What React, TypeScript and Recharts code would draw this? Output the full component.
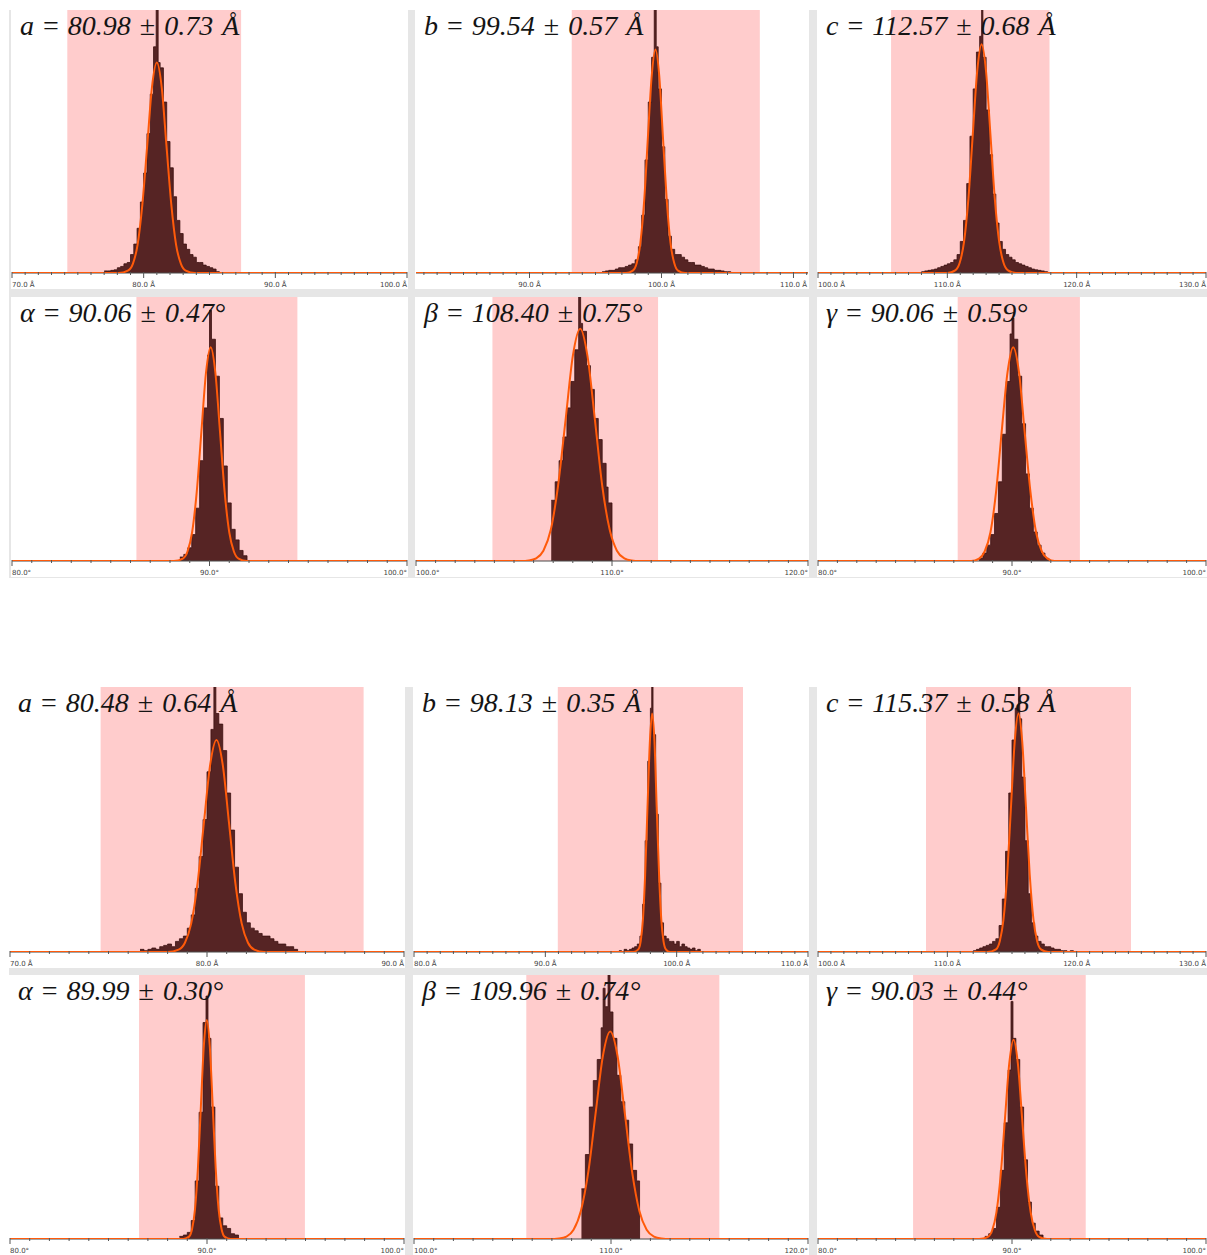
import React from 'react';
import { ComposedChart, Area, Line, XAxis, YAxis, ReferenceArea } from 'recharts';

type Pt = [number, number];

// titles
const symbols = ['a', 'b', 'c', 'α', 'β', 'γ'];
const units = [' Å', ' Å', ' Å', '°', '°', '°'];
const topMeans = ['80.98', '99.54', '112.57', '90.06', '108.40', '90.06'];
const topErrs = ['0.73', '0.57', '0.68', '0.47', '0.75', '0.59'];
const bottomMeans = ['80.48', '98.13', '115.37', '89.99', '109.96', '90.03'];
const bottomErrs = ['0.64', '0.35', '0.58', '0.30', '0.74', '0.44'];

// axis ranges and shaded windows
const topDomains: Pt[] = [[70, 100], [81.4, 111.1], [100, 130], [80, 100], [100, 120], [80, 100]];
const topBands: Pt[] = [[74.2, 87.4], [93.2, 107.45], [105.65, 117.9], [86.3, 94.45], [103.9, 112.35], [87.2, 93.5]];
const bottomDomains: Pt[] = [[70, 90], [80, 110], [100, 130], [80, 100], [100, 120], [80, 100]];
const bottomBands: Pt[] = [[74.6, 87.95], [90.95, 105.05], [108.35, 124.2], [86.55, 94.97], [105.7, 115.5], [84.9, 93.8]];

// histograms: [bin left edge, height in % of panel]
const histTopA: Pt[] = [[77.0, 0.8], [77.25, 0.8], [77.5, 1], [77.75, 1.2], [78.0, 2], [78.25, 2.5], [78.5, 3.5], [78.75, 4], [79.0, 7], [79.25, 11], [79.5, 17], [79.75, 27], [80.0, 38], [80.25, 53], [80.5, 68], [80.75, 86], [80.95, 104], [81.1, 80], [81.25, 78], [81.5, 65], [81.75, 50], [82.0, 40], [82.25, 29], [82.5, 20], [82.75, 15], [83.0, 11], [83.25, 9], [83.5, 7], [83.75, 6], [84.0, 4], [84.25, 4], [84.5, 3], [84.75, 2.5], [85.0, 2], [85.25, 1.5], [85.5, 0.5], [85.75, 0]];
const histTopB: Pt[] = [[95.5, 0.5], [95.75, 0.8], [96.0, 1], [96.25, 1], [96.5, 1.5], [96.75, 2], [97.0, 2], [97.25, 2.5], [97.5, 3], [97.75, 3.5], [98.0, 5], [98.25, 10], [98.5, 22], [98.75, 43], [99.0, 65], [99.25, 82], [99.45, 104], [99.6, 86], [99.75, 70], [100.0, 48], [100.25, 28], [100.5, 14], [100.75, 9], [101.0, 7], [101.25, 7], [101.5, 6], [101.75, 5], [102.0, 4], [102.25, 4], [102.5, 3], [102.75, 3], [103.0, 2.5], [103.25, 2], [103.5, 1.5], [103.75, 1.5], [104.0, 1], [104.25, 1], [104.5, 0.8], [104.75, 0.5], [105.0, 0.5], [105.25, 0]];
const histTopC: Pt[] = [[108.0, 0.5], [108.25, 0.8], [108.5, 1], [108.75, 1.2], [109.0, 1.5], [109.25, 2], [109.5, 2.5], [109.75, 3], [110.0, 3.5], [110.25, 4], [110.5, 5], [110.75, 7], [111.0, 12], [111.25, 20], [111.5, 34], [111.75, 52], [112.0, 70], [112.25, 84], [112.5, 90], [112.65, 104], [112.75, 82], [113.0, 62], [113.25, 45], [113.5, 30], [113.75, 19], [114.0, 12], [114.25, 9], [114.5, 7], [114.75, 6], [115.0, 5], [115.25, 4], [115.5, 3.5], [115.75, 3], [116.0, 2.5], [116.25, 2], [116.5, 1.5], [116.75, 1.2], [117.0, 1], [117.25, 0.8], [117.5, 0.5], [117.75, 0]];
const histTopAlpha: Pt[] = [[88.5, 1.5], [88.7, 2.5], [88.9, 5], [89.1, 10], [89.3, 20], [89.5, 38], [89.7, 58], [89.9, 78], [90.0, 95], [90.1, 84], [90.3, 70], [90.5, 54], [90.7, 36], [90.9, 22], [91.1, 12], [91.3, 8], [91.5, 4], [91.7, 2], [91.9, 0]];
const histTopBeta: Pt[] = [[106.9, 23], [107.1, 30], [107.3, 38], [107.5, 47], [107.7, 58], [107.9, 68], [108.1, 80], [108.3, 102], [108.4, 90], [108.5, 87], [108.7, 74], [108.9, 65], [109.1, 54], [109.3, 46], [109.5, 37], [109.7, 28], [109.8, 22], [110.0, 0]];
const histTopGamma: Pt[] = [[88.3, 1], [88.5, 3], [88.7, 6], [88.9, 10], [89.1, 18], [89.3, 30], [89.5, 48], [89.7, 68], [89.9, 86], [90.0, 92], [90.1, 84], [90.3, 70], [90.5, 52], [90.7, 33], [90.9, 20], [91.1, 11], [91.3, 6], [91.5, 3], [91.7, 1], [91.9, 0]];

const histBotA: Pt[] = [[76.6, 1], [76.8, 0.5], [77.0, 1], [77.2, 1.5], [77.4, 1], [77.6, 2], [77.8, 2.5], [78.0, 3], [78.2, 2], [78.4, 4], [78.6, 5], [78.8, 6], [79.0, 9], [79.2, 14], [79.4, 24], [79.6, 36], [79.8, 50], [80.0, 68], [80.2, 84], [80.35, 104], [80.45, 90], [80.6, 86], [80.8, 76], [81.0, 60], [81.2, 46], [81.4, 32], [81.6, 22], [81.8, 15], [82.0, 11], [82.2, 9], [82.4, 8], [82.6, 7], [82.8, 6], [83.0, 6], [83.2, 5], [83.4, 4], [83.6, 3], [83.8, 3], [84.0, 2], [84.2, 2], [84.4, 1], [84.6, 0]];
const histBotB: Pt[] = [[95.6, 0.5], [95.8, 0], [96.0, 1], [96.2, 0.5], [96.4, 1], [96.6, 1.5], [96.8, 2], [97.0, 3], [97.2, 6], [97.4, 18], [97.6, 42], [97.8, 72], [98.0, 92], [98.1, 104], [98.2, 82], [98.4, 52], [98.6, 26], [98.8, 11], [99.0, 6], [99.2, 5], [99.4, 4], [99.6, 4], [99.8, 3], [100.0, 4], [100.2, 2], [100.4, 3], [100.6, 2], [100.8, 1.5], [101.0, 1], [101.2, 1.5], [101.4, 0.5], [101.6, 1], [101.8, 0]];
const histBotC: Pt[] = [[112.0, 0.5], [112.25, 1], [112.5, 1.5], [112.75, 2], [113.0, 2.5], [113.25, 3], [113.5, 4], [113.75, 5], [114.0, 10], [114.25, 20], [114.5, 38], [114.75, 60], [115.0, 80], [115.25, 92], [115.5, 104], [115.6, 88], [115.75, 66], [116.0, 42], [116.25, 22], [116.5, 11], [116.75, 6], [117.0, 4], [117.25, 3], [117.5, 2], [117.75, 2], [118.0, 1.5], [118.25, 1], [118.5, 1], [118.75, 0.5], [119.0, 0.5], [119.25, 0], [119.5, 0.5], [119.75, 0]];
const histBotAlpha: Pt[] = [[88.6, 1], [88.8, 1.5], [89.0, 2.5], [89.2, 7], [89.4, 22], [89.6, 48], [89.8, 82], [89.95, 92], [90.05, 76], [90.2, 50], [90.4, 20], [90.6, 8], [90.8, 5], [91.0, 4], [91.2, 2], [91.4, 1.5], [91.6, 0]];
const histBotBeta: Pt[] = [[108.5, 19], [108.7, 32], [108.9, 50], [109.1, 60], [109.3, 68], [109.5, 80], [109.6, 95], [109.7, 88], [109.85, 102], [109.95, 86], [110.1, 76], [110.3, 62], [110.5, 52], [110.7, 45], [110.9, 36], [111.1, 26], [111.3, 22], [111.45, 0]];
const histBotGamma: Pt[] = [[88.6, 1], [88.8, 2], [89.0, 4], [89.2, 12], [89.4, 26], [89.6, 44], [89.8, 64], [89.95, 90], [90.05, 76], [90.2, 68], [90.4, 50], [90.6, 30], [90.8, 14], [91.0, 6], [91.2, 3], [91.4, 1.5], [91.6, 0]];

// fitted curves: [x, height in %]
const fitTopA: Pt[] = [[70, 0], [78.1, 0], [78.8, 0.9], [79.18, 3.5], [79.54, 10.8], [79.9, 26], [80.27, 48.5], [80.63, 70.6], [81.0, 80], [81.37, 70.6], [81.73, 48.5], [82.1, 26], [82.46, 10.8], [82.83, 3.5], [83.2, 0.9], [83.9, 0], [100, 0]];
const fitTopB: Pt[] = [[81.4, 0], [97.3, 0], [97.83, 0.9], [98.12, 3.7], [98.4, 11.5], [98.69, 27.6], [98.97, 51.6], [99.26, 75], [99.54, 85], [99.83, 75], [100.11, 51.6], [100.4, 27.6], [100.68, 11.5], [100.97, 3.7], [101.25, 0.9], [101.8, 0], [111.1, 0]];
const fitTopC: Pt[] = [[100, 0], [110.0, 0], [110.61, 1.0], [110.95, 3.8], [111.29, 11.8], [111.63, 28.3], [111.97, 52.8], [112.31, 76.8], [112.65, 87], [112.99, 76.8], [113.33, 52.8], [113.67, 28.3], [114.01, 11.8], [114.35, 3.8], [114.69, 1.0], [115.3, 0], [130, 0]];
const fitTopAlpha: Pt[] = [[80, 0], [88.2, 0], [88.65, 0.9], [88.885, 3.6], [89.12, 10.9], [89.355, 26.3], [89.59, 49.1], [89.825, 71.5], [90.06, 81], [90.295, 71.5], [90.53, 49.1], [90.765, 26.3], [91.0, 10.9], [91.235, 3.6], [91.47, 0.9], [91.9, 0], [100, 0]];
const fitTopBeta: Pt[] = [[100, 0], [105.4, 0], [105.75, 0.2], [106.13, 1.0], [106.5, 3.9], [106.88, 11.9], [107.25, 28.6], [107.63, 53.4], [108.0, 77.6], [108.38, 88], [108.75, 77.6], [109.13, 53.4], [109.5, 28.6], [109.88, 11.9], [110.25, 3.9], [110.63, 1.0], [111.0, 0.2], [111.4, 0], [120, 0]];
const fitTopGamma: Pt[] = [[80, 0], [87.9, 0], [88.3, 0.9], [88.59, 3.6], [88.89, 10.9], [89.18, 26.3], [89.47, 49.1], [89.77, 71.5], [90.06, 81], [90.36, 71.5], [90.65, 49.1], [90.95, 26.3], [91.24, 10.9], [91.54, 3.6], [91.83, 0.9], [92.2, 0], [100, 0]];

const fitBotA: Pt[] = [[70, 0], [78.0, 0], [78.56, 0.9], [78.88, 3.5], [79.2, 10.8], [79.52, 26], [79.84, 48.5], [80.16, 70.6], [80.48, 80], [80.8, 70.6], [81.12, 48.5], [81.44, 26], [81.76, 10.8], [82.08, 3.5], [82.4, 0.9], [82.9, 0], [90, 0]];
const fitBotB: Pt[] = [[80, 0], [96.7, 0], [97.08, 1.0], [97.26, 4.0], [97.43, 12.2], [97.6, 29.2], [97.78, 54.6], [97.96, 79.4], [98.13, 90], [98.31, 79.4], [98.48, 54.6], [98.66, 29.2], [98.83, 12.2], [99.0, 4.0], [99.18, 1.0], [99.5, 0], [110, 0]];
const fitBotC: Pt[] = [[100, 0], [113.1, 0], [113.76, 1.0], [114.05, 4.0], [114.34, 12.2], [114.63, 29.2], [114.92, 54.6], [115.21, 79.4], [115.5, 90], [115.79, 79.4], [116.08, 54.6], [116.37, 29.2], [116.66, 12.2], [116.95, 4.0], [117.24, 1.0], [117.8, 0], [130, 0]];
const fitBotAlpha: Pt[] = [[80, 0], [88.8, 0], [89.09, 0.9], [89.24, 3.7], [89.39, 11.2], [89.54, 27], [89.69, 50.3], [89.84, 73.2], [89.99, 83], [90.14, 73.2], [90.29, 50.3], [90.44, 27], [90.59, 11.2], [90.74, 3.7], [90.89, 0.9], [91.2, 0], [100, 0]];
const fitBotBeta: Pt[] = [[100, 0], [106.9, 0], [107.37, 0.2], [107.74, 0.9], [108.1, 3.5], [108.47, 10.6], [108.85, 25.5], [109.22, 47.7], [109.59, 69.4], [109.96, 78.6], [110.33, 69.4], [110.7, 47.7], [111.07, 25.5], [111.44, 10.6], [111.81, 3.5], [112.18, 0.9], [112.55, 0.2], [113.0, 0], [120, 0]];
const fitBotGamma: Pt[] = [[80, 0], [88.3, 0], [88.76, 0.8], [88.98, 3.3], [89.2, 10.2], [89.42, 24.5], [89.64, 45.8], [89.86, 66.6], [90.08, 75.5], [90.3, 66.6], [90.52, 45.8], [90.74, 24.5], [90.96, 10.2], [91.18, 3.3], [91.4, 0.8], [91.8, 0], [100, 0]];

const topHists = [histTopA, histTopB, histTopC, histTopAlpha, histTopBeta, histTopGamma];
const topFits = [fitTopA, fitTopB, fitTopC, fitTopAlpha, fitTopBeta, fitTopGamma];
const botHists = [histBotA, histBotB, histBotC, histBotAlpha, histBotBeta, histBotGamma];
const botFits = [fitBotA, fitBotB, fitBotC, fitBotAlpha, fitBotBeta, fitBotGamma];

// layout
const AXIS_H = 16;
const topCols = [{ left: 11, width: 397 }, { left: 415, width: 394 }, { left: 817, width: 390 }];
const topRows = [{ top: 10, height: 279 }, { top: 297, height: 280 }];
const botCols = [{ left: 9, width: 396 }, { left: 413, width: 396 }, { left: 817, width: 390 }];
const botRows = [{ top: 687, height: 281 }, { top: 975, height: 280 }];

interface PanelSpec {
  left: number;
  top: number;
  width: number;
  height: number;
  domain: Pt;
  band: Pt;
  hist: Pt[];
  fit: Pt[];
  symbol: string;
  mean: string;
  err: string;
  unit: string;
}

function buildPanels(
  cols: typeof topCols,
  rows: typeof topRows,
  domains: Pt[],
  bands: Pt[],
  hists: Pt[][],
  fits: Pt[][],
  means: string[],
  errs: string[]
): PanelSpec[] {
  return symbols.map((symbol, i) => {
    const col = cols[i % 3];
    const row = rows[Math.floor(i / 3)];
    return {
      ...col,
      ...row,
      domain: domains[i],
      band: bands[i],
      hist: hists[i],
      fit: fits[i],
      symbol,
      mean: means[i],
      err: errs[i],
      unit: units[i],
    };
  });
}

const panels = [
  ...buildPanels(topCols, topRows, topDomains, topBands, topHists, topFits, topMeans, topErrs),
  ...buildPanels(botCols, botRows, bottomDomains, bottomBands, botHists, botFits, bottomMeans, bottomErrs),
];

function unitTicks([lo, hi]: Pt): number[] {
  const out: number[] = [];
  for (let v = Math.ceil(lo - 1e-9); v <= hi + 1e-9; v++) out.push(v);
  return out;
}

function AxisTick(props: any) {
  const { x, y, payload, unit, domain } = props;
  const v = payload.value as number;
  const major = Math.abs(v % 10) < 1e-6;
  // labels sitting on the panel edge are kept inside the panel
  let anchor: 'start' | 'middle' | 'end' = 'middle';
  if (Math.abs(v - domain[0]) < 1e-6) anchor = 'start';
  if (Math.abs(v - domain[1]) < 1e-6) anchor = 'end';
  return (
    <g>
      <line x1={x} x2={x} y1={y - 1} y2={y + (major ? 5 : 2)} stroke="#555" strokeWidth={1} />
      {major && (
        <text x={x} y={y + 13.5} textAnchor={anchor} fontSize={7} fill="#444" fontFamily="'DejaVu Sans', sans-serif">
          {`${v.toFixed(1)}${unit}`}
        </text>
      )}
    </g>
  );
}

function Panel({ p }: { p: PanelSpec }) {
  const hist = p.hist.map(([x, h]) => ({ x, h }));
  const fit = p.fit.map(([x, f]) => ({ x, f }));
  return (
    <div
      style={{
        position: 'absolute',
        left: p.left,
        top: p.top,
        width: p.width,
        height: p.height,
        background: '#fff',
        overflow: 'hidden',
      }}
    >
      <ComposedChart width={p.width} height={p.height} margin={{ top: 0, right: 1, bottom: 0, left: 1 }}>
        <ReferenceArea
          x1={p.band[0]}
          x2={p.band[1]}
          fill="#ffcccc"
          fillOpacity={1}
          stroke="none"
          zIndex={-10}
        />
        <XAxis
          type="number"
          dataKey="x"
          domain={p.domain}
          allowDataOverflow
          ticks={unitTicks(p.domain)}
          interval={0}
          tickSize={0}
          tickMargin={0}
          tickLine={false}
          height={AXIS_H}
          stroke="#4a4a4a"
          tick={<AxisTick unit={p.unit} domain={p.domain} />}
        />
        <YAxis hide domain={[0, 100]} allowDataOverflow />
        <Area
          data={hist}
          dataKey="h"
          type="stepAfter"
          fill="#562424"
          fillOpacity={1}
          stroke="#3c1010"
          strokeWidth={0.8}
          dot={false}
          activeDot={false}
          isAnimationActive={false}
          zIndex={100}
        />
        <Line
          data={fit}
          dataKey="f"
          type="monotone"
          stroke="#ff5a0a"
          strokeWidth={2}
          dot={false}
          activeDot={false}
          isAnimationActive={false}
          zIndex={600}
        />
      </ComposedChart>
      <div
        style={{
          position: 'absolute',
          left: 9,
          top: 2,
          fontFamily: "'Liberation Serif', 'DejaVu Serif', serif",
          fontSize: 28,
          lineHeight: '28px',
          wordSpacing: 2,
          color: '#141414',
          whiteSpace: 'nowrap',
          pointerEvents: 'none',
        }}
      >
        <i>{p.symbol}</i> = <i>{p.mean}</i> ± <i>{p.err}{p.unit}</i>
      </div>
    </div>
  );
}

export default function App() {
  return (
    <div style={{ position: 'absolute', left: 0, top: 0, width: 1207, height: 1255, background: '#fff', overflow: 'hidden' }}>
      <div style={{ position: 'absolute', left: 9, top: 10, width: 1198, height: 568, background: '#e6e6e6' }} />
      <div style={{ position: 'absolute', left: 9, top: 687, width: 1198, height: 568, background: '#e6e6e6' }} />
      {panels.map((p, i) => (
        <Panel key={i} p={p} />
      ))}
    </div>
  );
}
